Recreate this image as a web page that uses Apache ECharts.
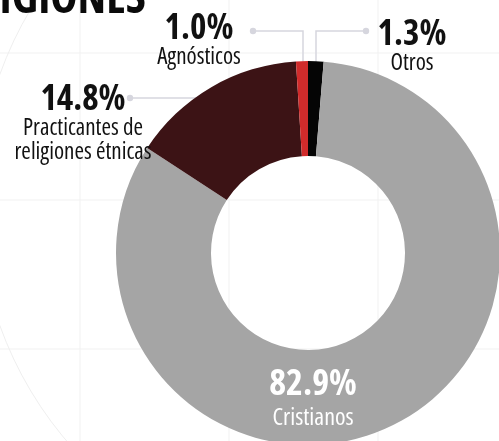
<!DOCTYPE html>
<html>
<head>
<meta charset="utf-8">
<script src="https://cdn.jsdelivr.net/npm/echarts@6/dist/echarts.min.js"></script>
<style>
html,body{margin:0;padding:0;background:#fff;overflow:hidden;}
body{position:relative;width:499px;height:441px;}
#c{position:absolute;left:0;top:0;width:499px;height:441px;}
#t{position:absolute;right:353px;top:-28px;z-index:5;font-family:"Open Sans";font-weight:bold;font-stretch:extra-condensed;font-size:46px;line-height:46px;white-space:nowrap;color:#0a0a0a;}
</style>
</head>
<body>
<div id="c"></div>
<div id="t"></div>
<script>
const categories = ['Otros', 'Cristianos', 'Practicantes de\nreligiones étnicas', 'Agnósticos'];
const values = [1.3, 82.9, 14.8, 1.0];
const colors = ['#050505', '#a5a5a5', '#3c1315', '#d02b2b'];
const titleText = 'RELIGIONES';

const FONT = '"Open Sans"';
const STRETCH = 'extra-condensed';

document.getElementById('t').textContent = titleText;

const labelPos = {
  'Otros': { x: 412, y: 19, line: [[316, 100], [316, 31], [366, 31]] },
  'Cristianos': { x: 313, y: 365, white: true },
  'Practicantes de\nreligiones étnicas': { x: 83, y: 84, line: [[278, 98], [200, 98], [130, 98]] },
  'Agnósticos': { x: 199, y: 13, line: [[303, 100], [303, 31], [253, 31]] }
};

const chart = echarts.init(document.getElementById('c'));

const graphics = [];
[80, 229, 378].forEach(x => graphics.push({ type: 'line', z: -10, shape: { x1: x, y1: 0, x2: x, y2: 441 }, style: { stroke: '#f1f1f1', lineWidth: 1 } }));
[53, 200, 349].forEach(y => graphics.push({ type: 'line', z: -10, shape: { x1: 0, y1: y, x2: 499, y2: y }, style: { stroke: '#f1f1f1', lineWidth: 1 } }));
graphics.push({ type: 'circle', z: -10, shape: { cx: 350, cy: 200, r: 372 }, style: { fill: 'none', stroke: '#efefef', lineWidth: 1 } });
Object.keys(labelPos).forEach(k => {
  const lp = labelPos[k];
  if (lp.line) {
    const end = lp.line[lp.line.length - 1];
    graphics.push({ type: 'circle', z: 20, shape: { cx: end[0], cy: end[1], r: 3.2 }, style: { fill: '#d6d6de' } });
  }
});

chart.setOption({
  animation: false,
  backgroundColor: '#fff',
  graphic: graphics,
  series: [{
    type: 'pie',
    center: [308, 253],
    radius: [97, 192],
    startAngle: 90,
    clockwise: true,
    data: categories.map((c, i) => ({
      name: c,
      value: values[i],
      itemStyle: { color: colors[i] },
      labelLine: { show: !!labelPos[c].line },
      label: labelPos[c].white ? {
        rich: {
          v: { color: '#fff', fontFamily: FONT, fontSize: 36, fontWeight: 'bold ' + STRETCH, lineHeight: 40 },
          n: { color: '#fff', fontFamily: FONT, fontSize: 24, fontWeight: 'normal ' + STRETCH, lineHeight: 26 }
        }
      } : undefined
    })),
    label: {
      show: true,
      position: 'outside',
      overflow: 'none',
      formatter: p => '{v|' + p.value.toFixed(1) + '%}\n{n|' + p.name.split('\n').join('}\n{n|') + '}',
      align: 'center',
      rich: {
        v: { color: '#111', fontFamily: FONT, fontSize: 35, fontWeight: 'bold ' + STRETCH, lineHeight: 32, align: 'center' },
        n: { color: '#111', fontFamily: FONT, fontSize: 23, fontWeight: 'normal ' + STRETCH, lineHeight: 24, align: 'center' }
      }
    },
    labelLine: { show: true, lineStyle: { color: '#d6d6de', width: 1.5 } },
    labelLayout: p => {
      const lp = labelPos[categories[p.dataIndex]];
      const r = { x: lp.x, y: lp.y, align: 'center', verticalAlign: 'top' };
      if (lp.line) r.labelLinePoints = lp.line;
      return r;
    },
    emphasis: { disabled: true }
  }]
});
</script>
</body>
</html>
